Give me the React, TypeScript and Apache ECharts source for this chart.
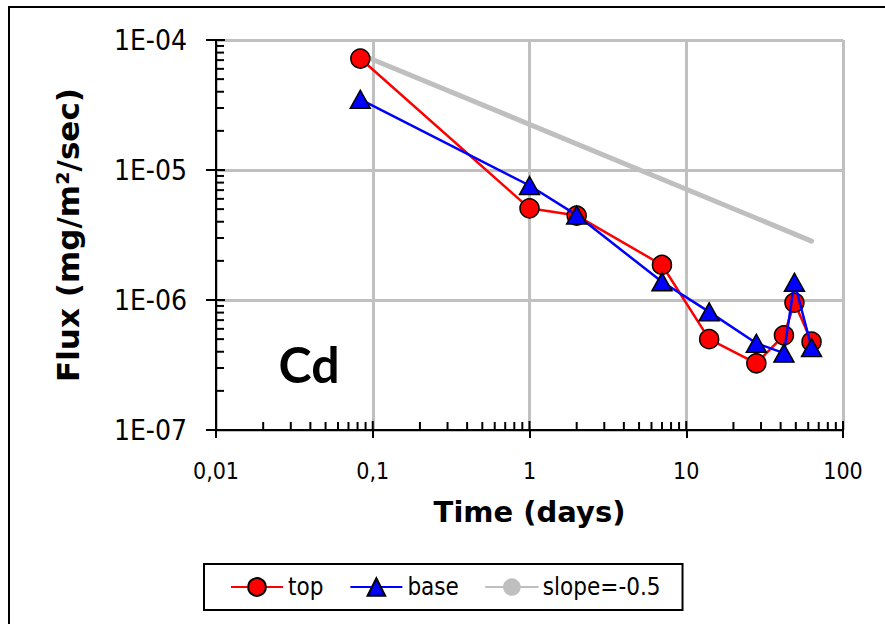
import React, { useEffect, useRef } from "react";
import * as echarts from "echarts";

const timeDays = [0.0833, 1, 2, 7, 14, 28, 42, 49, 63];
const topFlux = [7.2e-5, 5.07e-6, 4.46e-6, 1.86e-6, 5.0e-7, 3.26e-7, 5.35e-7, 9.55e-7, 4.78e-7];
const baseFlux = [3.5e-5, 7.6e-6, 4.5e-6, 1.38e-6, 8.1e-7, 4.65e-7, 3.9e-7, 1.37e-6, 4.3e-7];
const slopeTime = [0.085, 63];
const slopeFlux = [7.67e-5, 2.84e-6];

const X_MIN = 0.01;
const X_MAX = 100;
const Y_MIN = 1e-7;
const Y_MAX = 1e-4;
const xDecades = [0.01, 0.1, 1, 10];
const yDecades = [1e-7, 1e-6, 1e-5];
const minorMultipliers = [2, 3, 4, 5, 6, 7, 8, 9];

const FONT = "'DejaVu Sans Condensed', 'DejaVu Sans', sans-serif";
const BOLD_FONT = "'DejaVu Sans', sans-serif";

export default function App() {
  const ref = useRef<HTMLDivElement>(null);
  useEffect(() => {
    if (!ref.current) return;
    const chart = echarts.init(ref.current, undefined, { renderer: "svg" });

    const fmtX = (v: number) => String(Number(v.toPrecision(3))).replace(".", ",");
    const fmtY = (v: number) => {
      const e = Math.round(Math.log10(v));
      return "1E-" + String(-e).padStart(2, "0");
    };

    chart.setOption({
      animation: false,
      backgroundColor: "#fff",
      grid: { left: 216, top: 40, right: 42, bottom: 194, containLabel: false },
      legend: {
        left: 204,
        top: 564,
        data: ["top", "base", "slope=-0.5"],
        itemWidth: 52,
        itemHeight: 22,
        itemGap: 26,
        padding: [11, 22, 11, 26],
        borderColor: "#000",
        borderWidth: 2,
        textStyle: { fontFamily: FONT, fontSize: 24, color: "#000" },
      },
      xAxis: {
        type: "log",
        logBase: 10,
        min: X_MIN,
        max: X_MAX,
        name: "Time (days)",
        nameLocation: "middle",
        nameGap: 67,
        nameTextStyle: { fontFamily: BOLD_FONT, fontSize: 29, fontWeight: "bold", color: "#000" },
        axisLine: { show: true, onZero: false, lineStyle: { color: "#000", width: 2 } },
        axisTick: { show: true, inside: false, length: 8, lineStyle: { color: "#000", width: 2 } },
        axisLabel: { formatter: fmtX, fontFamily: FONT, fontSize: 23, color: "#000", margin: 29 },
        splitLine: { show: true, lineStyle: { color: "#c0c0c0", width: 3 } },
      },
      yAxis: {
        type: "log",
        logBase: 10,
        min: Y_MIN,
        max: Y_MAX,
        name: "Flux (mg/m²/sec)",
        nameLocation: "middle",
        nameGap: 133,
        nameTextStyle: { fontFamily: BOLD_FONT, fontSize: 31, fontWeight: "bold", color: "#000" },
        axisLine: { show: true, onZero: false, lineStyle: { color: "#000", width: 2 } },
        axisTick: { show: true, inside: false, length: 10, lineStyle: { color: "#000", width: 2 } },
        axisLabel: { formatter: fmtY, fontFamily: FONT, fontSize: 28, color: "#000", margin: 29 },
        splitLine: { show: true, lineStyle: { color: "#c0c0c0", width: 3 } },
      },
      series: [
        {
          name: "slope=-0.5",
          type: "line",
          data: slopeTime.map((t, i) => [t, slopeFlux[i]]),
          symbol: "none",
          showSymbol: false,
          lineStyle: { color: "#bfbfbf", width: 5, cap: "round" },
          itemStyle: { color: "#bfbfbf" },
          z: 2,
        },
        {
          name: "base",
          type: "line",
          data: timeDays.map((t, i) => [t, baseFlux[i]]),
          symbol: "triangle",
          symbolSize: [20, 18],
          lineStyle: { color: "#0000ff", width: 2.5 },
          itemStyle: { color: "#0000ff", borderColor: "#000", borderWidth: 1.5 },
          z: 4,
        },
        {
          name: "top",
          type: "line",
          data: timeDays.map((t, i) => [t, topFlux[i]]),
          symbol: "circle",
          symbolSize: 19,
          lineStyle: { color: "#ff0000", width: 2.5 },
          itemStyle: { color: "#ff0000", borderColor: "#000", borderWidth: 1.5 },
          z: 3,
        },
      ],
    });

    // inner tick marks (log-spaced minor ticks + inner half of major ticks), placed through the chart's scales
    const ticks: any[] = [];
    const toPx = (p: number[]) => chart.convertToPixel({ gridIndex: 0 }, p) as number[];
    const addX = (v: number, len: number) => {
      const p = toPx([v, Y_MIN]);
      ticks.push({
        type: "line",
        shape: { x1: p[0], y1: p[1], x2: p[0], y2: p[1] - len },
        style: { stroke: "#000", lineWidth: 2 },
        silent: true,
        z: 50,
      });
    };
    const addY = (v: number, len: number) => {
      const p = toPx([X_MIN, v]);
      ticks.push({
        type: "line",
        shape: { x1: p[0], y1: p[1], x2: p[0] + len, y2: p[1] },
        style: { stroke: "#000", lineWidth: 2 },
        silent: true,
        z: 50,
      });
    };
    xDecades.forEach((d) => minorMultipliers.forEach((m) => addX(d * m, 8)));
    [...xDecades, X_MAX].forEach((d) => addX(d, 9));
    yDecades.forEach((d) => minorMultipliers.forEach((m) => addY(d * m, 8)));
    [...yDecades, Y_MAX].forEach((d) => addY(d, 9));

    chart.setOption({
      graphic: [
        {
          type: "rect",
          shape: { x: 9, y: 7, width: 900, height: 700 },
          style: { fill: "none", stroke: "#000", lineWidth: 2 },
          silent: true,
        },
        {
          type: "text",
          x: 309,
          y: 364,
          style: {
            text: "Cd",
            font: "bold 50px Lato, 'Open Sans', sans-serif",
            fill: "#000",
            textAlign: "center",
            textVerticalAlign: "middle",
          },
          z: 20,
        },
        ...ticks,
      ],
    });

    return () => chart.dispose();
  }, []);
  return (
    <div
      ref={ref}
      style={{ position: "fixed", left: 0, top: 0, width: 885, height: 624 }}
    />
  );
}
